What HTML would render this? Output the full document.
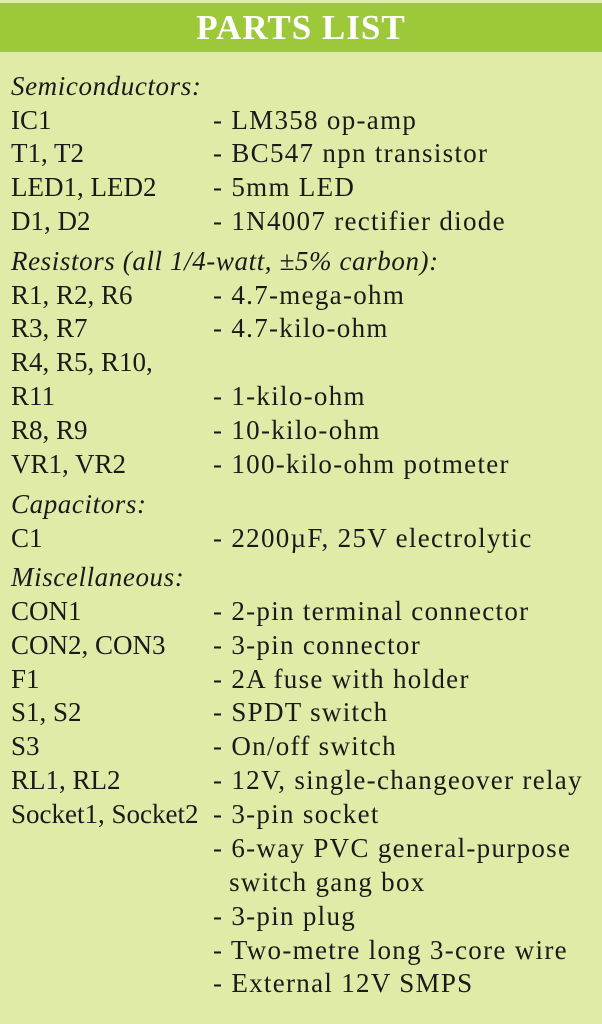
<!DOCTYPE html>
<html><head><meta charset="utf-8"><style>
body{margin:0;width:602px;height:1024px;background:#e0eba8;overflow:hidden;position:relative;font-family:"Liberation Serif",serif;color:#1a1a1a}
.h{position:absolute;left:0;top:3px;width:602px;height:49px;background:#9cc83a;color:#fff;font-weight:bold;font-size:35px;text-align:center;line-height:49px;letter-spacing:1px}
.r{position:absolute;left:11px;font-size:27px;line-height:30px;white-space:nowrap}
.r i{font-style:italic;letter-spacing:0.6px}
.r span{position:absolute;left:202px;letter-spacing:1.3px}
</style></head><body>
<div class="h">PARTS LIST</div>
<div class="r" style="top:71px"><i>Semiconductors:</i></div>
<div class="r" style="top:105px">IC1<span>- LM358 op-amp</span></div>
<div class="r" style="top:138px">T1, T2<span>- BC547 npn transistor</span></div>
<div class="r" style="top:172px">LED1, LED2<span>- 5mm LED</span></div>
<div class="r" style="top:206px">D1, D2<span>- 1N4007 rectifier diode</span></div>
<div class="r" style="top:246px"><i>Resistors (all 1/4-watt, ±5% carbon):</i></div>
<div class="r" style="top:280px">R1, R2, R6<span>- 4.7-mega-ohm</span></div>
<div class="r" style="top:313px">R3, R7<span>- 4.7-kilo-ohm</span></div>
<div class="r" style="top:347px">R4, R5, R10,</div>
<div class="r" style="top:381px">R11<span>- 1-kilo-ohm</span></div>
<div class="r" style="top:415px">R8, R9<span>- 10-kilo-ohm</span></div>
<div class="r" style="top:449px">VR1, VR2<span>- 100-kilo-ohm potmeter</span></div>
<div class="r" style="top:489px"><i>Capacitors:</i></div>
<div class="r" style="top:523px">C1<span>- 2200µF, 25V electrolytic</span></div>
<div class="r" style="top:562px"><i>Miscellaneous:</i></div>
<div class="r" style="top:596px">CON1<span>- 2-pin terminal connector</span></div>
<div class="r" style="top:630px">CON2, CON3<span>- 3-pin connector</span></div>
<div class="r" style="top:664px">F1<span>- 2A fuse with holder</span></div>
<div class="r" style="top:697px">S1, S2<span>- SPDT switch</span></div>
<div class="r" style="top:731px">S3<span>- On/off switch</span></div>
<div class="r" style="top:765px">RL1, RL2<span>- 12V, single-changeover relay</span></div>
<div class="r" style="top:799px">Socket1, Socket2<span>- 3-pin socket</span></div>
<div class="r" style="top:833px"><span>- 6-way PVC general-purpose</span></div>
<div class="r" style="top:867px"><span>&nbsp;&nbsp;switch gang box</span></div>
<div class="r" style="top:901px"><span>- 3-pin plug</span></div>
<div class="r" style="top:935px"><span>- Two-metre long 3-core wire</span></div>
<div class="r" style="top:968px"><span>- External 12V SMPS</span></div>
</body></html>
